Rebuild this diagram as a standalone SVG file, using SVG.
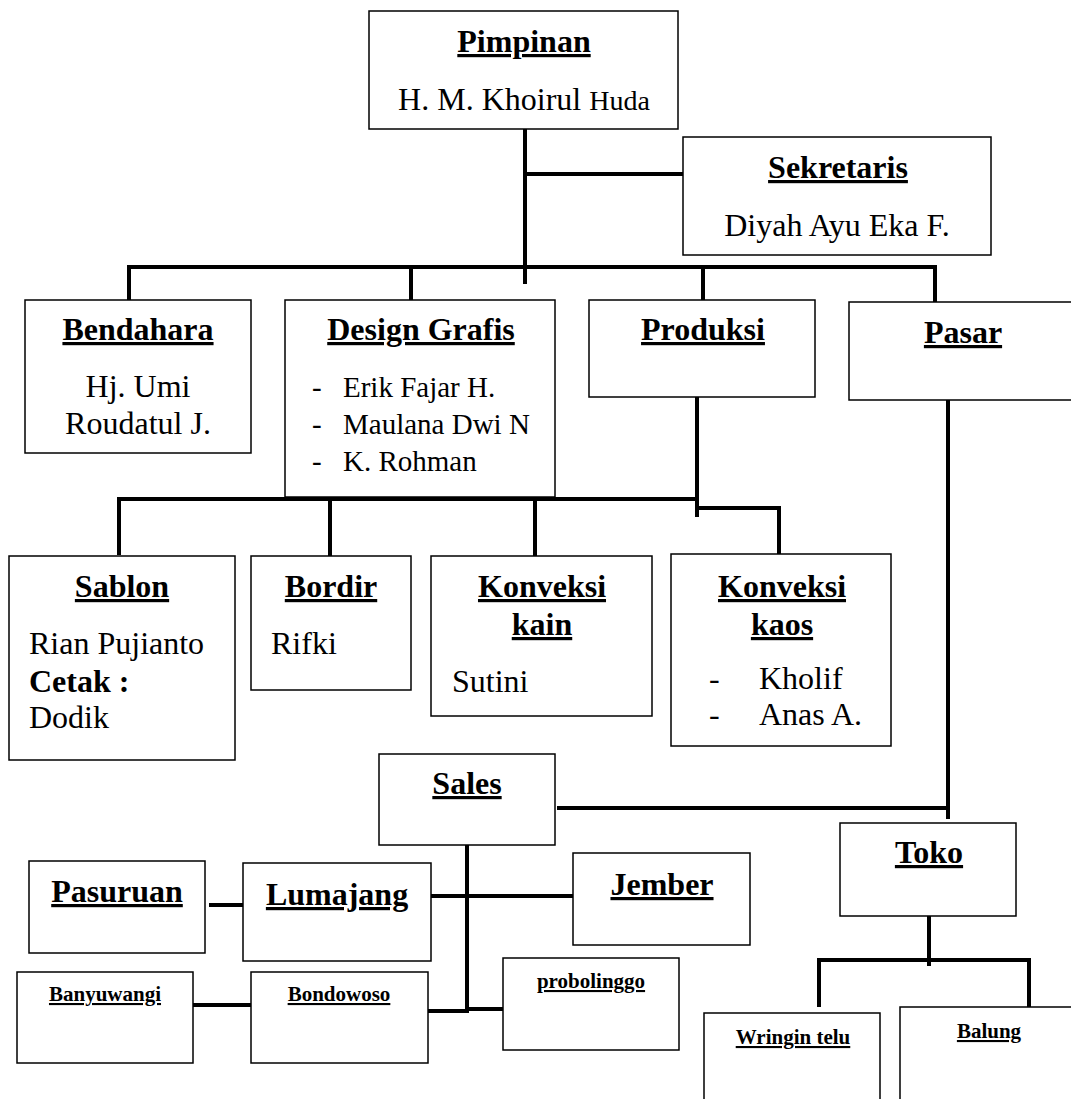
<svg xmlns="http://www.w3.org/2000/svg" width="1071" height="1099" viewBox="0 0 1071 1099">
<style>
.box{fill:#fff;stroke:#000;stroke-width:1.5}
.t{font-family:"Liberation Serif","Times New Roman",serif;font-weight:bold;font-size:32px;text-decoration:underline;text-anchor:middle;fill:#000}
.ts{font-family:"Liberation Serif","Times New Roman",serif;font-weight:bold;font-size:21px;text-decoration:underline;text-anchor:middle;fill:#000}
.b{font-family:"Liberation Serif","Times New Roman",serif;font-size:32px;fill:#000}
.c{text-anchor:middle}
.l{font-family:"Liberation Serif","Times New Roman",serif;font-size:29px;fill:#000}
.conn line{stroke:#000;stroke-width:4}
</style>
<rect width="1071" height="1099" fill="#fff"/>
<g class="conn" id="connectors">
<line x1="525" y1="129" x2="525" y2="284"/>
<line x1="525" y1="174" x2="683" y2="174"/>
<line x1="127" y1="267" x2="937" y2="267"/>
<line x1="129" y1="265" x2="129" y2="302"/>
<line x1="411" y1="267" x2="411" y2="307"/>
<line x1="703" y1="267" x2="703" y2="304"/>
<line x1="935" y1="265" x2="935" y2="304"/>
<line x1="697" y1="392" x2="697" y2="517"/>
<line x1="117" y1="499" x2="699" y2="499"/>
<line x1="119" y1="497" x2="119" y2="555"/>
<line x1="330" y1="499" x2="330" y2="556"/>
<line x1="535" y1="499" x2="535" y2="556"/>
<line x1="697" y1="508" x2="781" y2="508"/>
<line x1="779" y1="506" x2="779" y2="554"/>
<line x1="948" y1="394" x2="948" y2="819"/>
<line x1="557" y1="808" x2="948" y2="808"/>
<line x1="467" y1="845" x2="467" y2="1013"/>
<line x1="431" y1="896" x2="574" y2="896"/>
<line x1="209" y1="905" x2="243" y2="905"/>
<line x1="193" y1="1005" x2="251" y2="1005"/>
<line x1="428" y1="1011" x2="467" y2="1011"/>
<line x1="465" y1="1009" x2="503" y2="1009"/>
<line x1="929" y1="905" x2="929" y2="966"/>
<line x1="817" y1="960" x2="1031" y2="960"/>
<line x1="819" y1="958" x2="819" y2="1007"/>
<line x1="1029" y1="958" x2="1029" y2="1011"/>
</g>
<g id="pimpinan">
<rect class="box" x="369" y="11" width="309" height="118"/>
<text class="t" x="524" y="52">Pimpinan</text>
<text class="b c" x="524" y="110">H. M. Khoirul <tspan font-size="28">Huda</tspan></text>
</g>
<g id="sekretaris">
<rect class="box" x="683" y="137" width="308" height="118"/>
<text class="t" x="838" y="178">Sekretaris</text>
<text class="b c" x="837" y="236">Diyah Ayu Eka F.</text>
</g>
<g id="bendahara">
<rect class="box" x="25" y="300" width="226" height="153"/>
<text class="t" x="138" y="340">Bendahara</text>
<text class="b c" x="138" y="397">Hj. Umi</text>
<text class="b c" x="138" y="434">Roudatul J.</text>
</g>
<g id="design-grafis">
<rect class="box" x="285" y="300" width="270" height="197"/>
<text class="t" x="421" y="340">Design Grafis</text>
<text class="l" x="312" y="397">-</text><text class="l" x="343" y="397">Erik Fajar H.</text>
<text class="l" x="312" y="434">-</text><text class="l" x="343" y="434">Maulana Dwi N</text>
<text class="l" x="312" y="471">-</text><text class="l" x="343" y="471">K. Rohman</text>
</g>
<g id="produksi">
<rect class="box" x="589" y="300" width="226" height="97"/>
<text class="t" x="703" y="340">Produksi</text>
</g>
<g id="pasar">
<rect class="box" x="849" y="302" width="240" height="98"/>
<text class="t" x="963" y="343">Pasar</text>
</g>
<g id="sablon">
<rect class="box" x="9" y="556" width="226" height="204"/>
<text class="t" x="122" y="597">Sablon</text>
<text class="b" x="29" y="654">Rian Pujianto</text>
<text class="b" x="29" y="692" font-weight="bold">Cetak :</text>
<text class="b" x="29" y="728">Dodik</text>
</g>
<g id="bordir">
<rect class="box" x="251" y="556" width="160" height="134"/>
<text class="t" x="331" y="597">Bordir</text>
<text class="b" x="271" y="654">Rifki</text>
</g>
<g id="konveksi-kain">
<rect class="box" x="431" y="556" width="221" height="160"/>
<text class="t" x="542" y="597">Konveksi</text>
<text class="t" x="542" y="635">kain</text>
<text class="b" x="452" y="692">Sutini</text>
</g>
<g id="konveksi-kaos">
<rect class="box" x="671" y="554" width="220" height="192"/>
<text class="t" x="782" y="597">Konveksi</text>
<text class="t" x="782" y="635">kaos</text>
<text class="b" x="709" y="689">-</text><text class="b" x="759" y="689">Kholif</text>
<text class="b" x="709" y="725">-</text><text class="b" x="759" y="725">Anas A.</text>
</g>
<g id="sales">
<rect class="box" x="379" y="754" width="176" height="91"/>
<text class="t" x="467" y="794">Sales</text>
</g>
<g id="toko">
<rect class="box" x="840" y="823" width="176" height="93"/>
<text class="t" x="929" y="863">Toko</text>
</g>
<g id="pasuruan">
<rect class="box" x="29" y="861" width="176" height="92"/>
<text class="t" x="117" y="902">Pasuruan</text>
</g>
<g id="lumajang">
<rect class="box" x="243" y="863" width="188" height="98"/>
<text class="t" x="337" y="905">Lumajang</text>
</g>
<g id="jember">
<rect class="box" x="573" y="853" width="177" height="92"/>
<text class="t" x="662" y="895">Jember</text>
</g>
<g id="banyuwangi">
<rect class="box" x="17" y="972" width="176" height="91"/>
<text class="ts" x="105" y="1001">Banyuwangi</text>
</g>
<g id="bondowoso">
<rect class="box" x="251" y="972" width="177" height="91"/>
<text class="ts" x="339" y="1001">Bondowoso</text>
</g>
<g id="probolinggo">
<rect class="box" x="503" y="958" width="176" height="92"/>
<text class="ts" x="591" y="988">probolinggo</text>
</g>
<g id="wringin-telu">
<rect class="box" x="704" y="1013" width="176" height="100"/>
<text class="ts" x="793" y="1044">Wringin telu</text>
</g>
<g id="balung">
<rect class="box" x="900" y="1007" width="190" height="110"/>
<text class="ts" x="989" y="1038">Balung</text>
</g>
</svg>
